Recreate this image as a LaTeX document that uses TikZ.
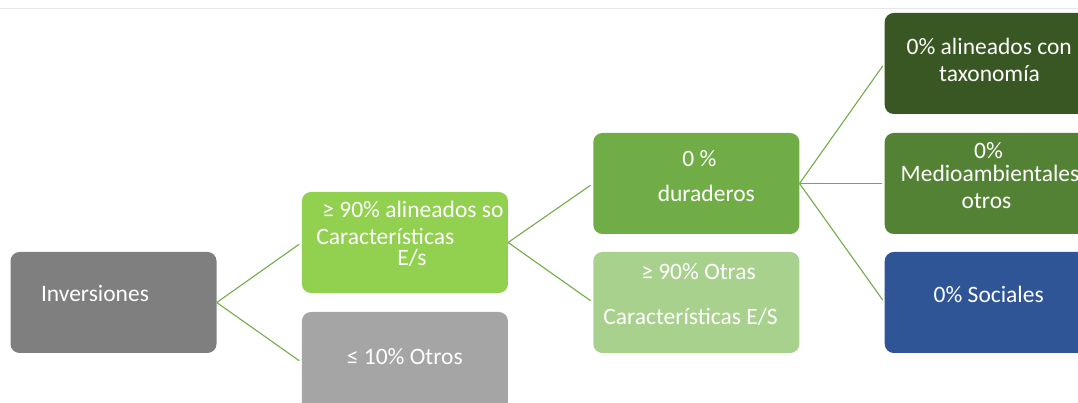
\documentclass[tikz,border=0pt]{standalone}
\usepackage{fontspec}
\setmainfont{Carlito}
\usetikzlibrary{positioning}
\definecolor{invgray}{HTML}{7F7F7F}
\definecolor{othgray}{HTML}{A5A5A5}
\definecolor{esgreen}{HTML}{92D050}
\definecolor{durgreen}{HTML}{70AD47}
\definecolor{esother}{HTML}{A9D18E}
\definecolor{taxgreen}{HTML}{385723}
\definecolor{envgreen}{HTML}{548235}
\definecolor{socblue}{HTML}{2F5597}
\definecolor{linkgreen}{HTML}{70AD47}
\definecolor{rulegray}{HTML}{E6E6E6}

\begin{document}
\begin{tikzpicture}[x=1pt, y=1pt, node distance=85pt,
    box/.style={rectangle, rounded corners=9pt, minimum width=206pt, minimum height=101pt, inner sep=0pt},
    txt/.style={text=white, anchor=base west, inner sep=0pt, font=\fontsize{23.5}{28}\selectfont},
    link/.style={draw=linkgreen, line width=1.1pt, shorten >=3pt}]
    \useasboundingbox (0,0) rectangle (1078,403);

    % Top rule
    \coordinate (rule-l) at (0,394.5);
    \coordinate (rule-r) at (1078,394.5);
    \draw [rulegray, line width=1.5pt] (rule-l) -- (rule-r);

    % Define nodes
    \node [box, fill=invgray] (inv) at (113.5,100.5) {};
    \node [box, fill=esgreen, right=of inv, yshift=60pt] (es) {};
    \node [box, fill=othgray, right=of inv, yshift=-60pt] (oth) {};
    \node [box, fill=durgreen, right=of es, yshift=59pt] (dur) {};
    \node [box, fill=esother, right=of es, yshift=-60pt] (eso) {};
    \node [box, fill=taxgreen, right=of dur, yshift=120pt] (tax) {};
    \node [box, fill=envgreen, right=of dur] (env) {};
    \node [box, fill=socblue, right=of dur, yshift=-119pt] (soc) {};

    % Texts
    \node [txt] (inv-t) at ([shift={(30.5,0.5)}]inv.west) {Inversiones};
    \node [txt] (es-t1) at ([shift={(20.5,24.5)}]es.west) {≥ 90\% alineados so};
    \node [txt] (es-t2) at ([shift={(14.5,-2.5)}]es.west) {Características};
    \node [txt] (es-t3) at ([shift={(95.5,-23.5)}]es.west) {E/s};
    \node [txt] (oth-t) at ([shift={(45,-2.5)}]oth.west) {≤ 10\% Otros};
    \node [txt] (dur-t1) at ([shift={(89,16.8)}]dur.west) {0 \%};
    \node [txt] (dur-t2) at ([shift={(64.5,-18.5)}]dur.west) {duraderos};
    \node [txt] (eso-t1) at ([shift={(48,22.5)}]eso.west) {≥ 90\% Otras};
    \node [txt] (eso-t2) at ([shift={(10,-22.5)}]eso.west) {Características E/S};
    \node [txt] (tax-t1) at ([shift={(22,8.5)}]tax.west) {0\% alineados con};
    \node [txt] (tax-t2) at ([shift={(54.5,-18)}]tax.west) {taxonomía};
    \node [txt] (env-t1) at ([shift={(89.5,24.5)}]env.west) {0\%};
    \node [txt] (env-t2) at ([shift={(16,2)}]env.west) {Medioambientales};
    \node [txt] (env-t3) at ([shift={(77,-25)}]env.west) {otros};
    \node [txt] (soc-t) at ([shift={(49,0)}]soc.west) {0\% Sociales};

    % Draw edges
    \draw [link] (inv.east) -- (es.west);
    \draw [link] (inv.east) -- (oth.west);
    \draw [link] (es.east) -- (dur.west);
    \draw [link] (es.east) -- (eso.west);
    \draw [link] (dur.east) -- (tax.west);
    \draw [link] (dur.east) -- (env.west);
    \draw [link] (dur.east) -- (soc.west);
\end{tikzpicture}
\end{document}
